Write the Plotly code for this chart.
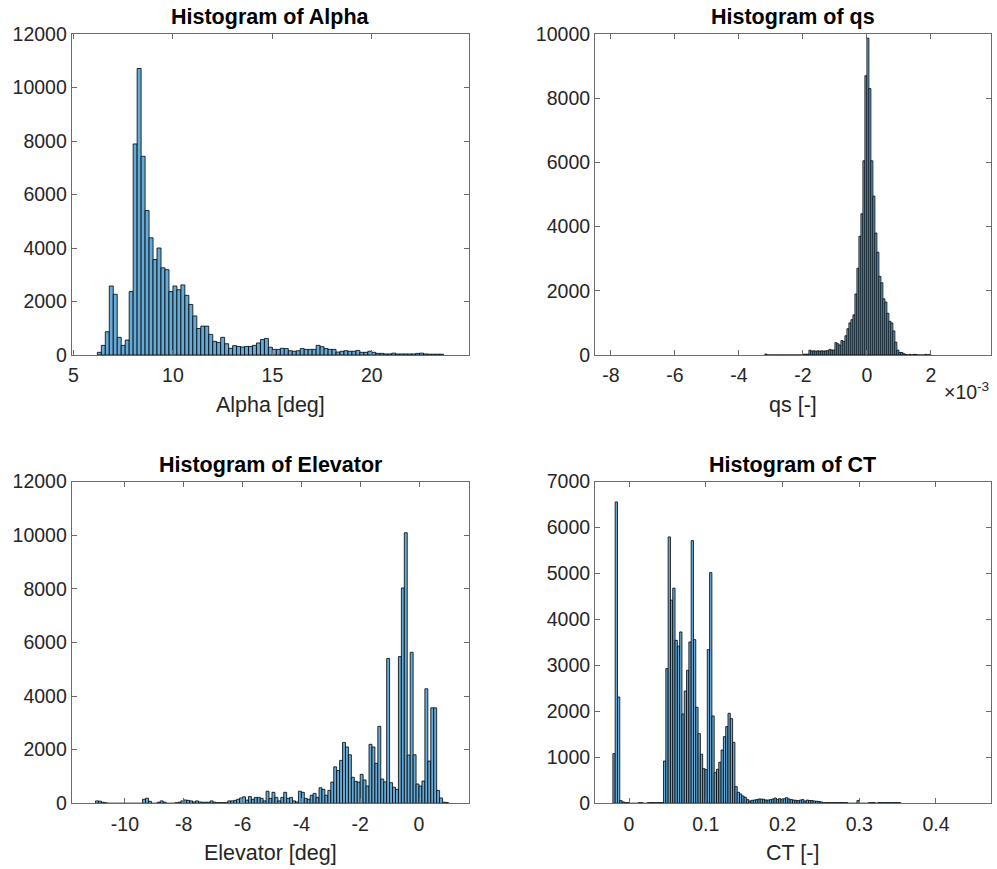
import plotly.graph_objects as go

W, H = 997, 869          # browser window = figure size (body margin removed below)

# ---------------- data ----------------
# Alpha histogram: bin width 0.2 deg, first edge 6.2
alpha_first_edge = 6.2
alpha_bin_width = 0.2
alpha_counts = [100, 360, 870, 2580, 2270, 660, 360, 560, 2370, 7890,
                10710, 7430, 5400, 4380, 3570, 4000, 3260, 3190, 2370, 2580,
                2440, 2620, 2230, 1890, 1460, 990, 1080, 1080, 770, 510,
                470, 660, 420, 250, 350, 320, 300, 320, 320, 360,
                450, 580, 620, 290, 210, 210, 250, 240, 160, 140,
                160, 240, 210, 210, 210, 360, 310, 240, 210, 210,
                110, 140, 160, 140, 140, 170, 100, 100, 140, 100,
                60, 60, 40, 40, 70, 40, 40, 40, 40, 40,
                60, 70, 40, 30, 30, 30, 30]
alpha_ticks = [5, 10, 15, 20]
alpha_ticktext = ["5", "10", "15", "20"]

# qs histogram: bin width 0.0625e-3, first bin index -51
qs_bin_width = 0.0625e-3
qs_first_bin = -51
qs_counts = ([30] + [0] * 18 + [25, 25, 25, 150,
             125, 130, 120, 130, 125, 130, 125, 130, 135,
             175, 155, 155,
             385, 350, 310, 450, 420, 600, 820, 1000, 1100, 1250,
             1900, 2700, 3700, 4400, 6050, 8700,
             9870, 8300, 6050, 4950, 3800, 3200, 2450, 2250, 1750, 1650,
             1300, 1050, 1000, 750, 400, 150, 80, 80, 40, 20,
             0, 20, 0, 20, 20, 0, 0, 0, 0, 20, 0, 20])
qs_ticks = [-8e-3, -6e-3, -4e-3, -2e-3, 0, 2e-3]
qs_ticktext = ["-8", "-6", "-4", "-2", "0", "2"]

# Elevator histogram: bin width 0.1 deg, first bin index -110
elev_bin_width = 0.1
elev_first_bin = -110
elev_counts = ([90, 80, 40, 20] + [0] * 12 + [150, 190, 75, 0, 0, 40, 90, 40, 0, 0, 0,
               20, 40, 90, 125, 110, 90, 50, 90, 50, 40, 40, 40, 90, 40, 25, 25, 25, 25,
               90, 90, 110, 150, 200, 240,
               120, 250, 150, 220, 220, 185, 90, 450, 185, 410, 220, 90, 220, 410, 185,
               220, 90, 50, 450, 410,
               185, 150, 300, 370, 220, 580, 520, 300, 480, 790, 1360, 1220, 1600, 2270,
               2100, 1810, 970, 820, 790, 1080,
               870, 645, 2200, 2100, 1490, 2870, 905, 800, 5400, 770, 600, 520, 5470,
               8030, 10090, 1800, 5630, 1810, 720, 645,
               830, 4270, 1575, 3560, 3560, 480, 200, 40, 30])
elev_ticks = [-10, -8, -6, -4, -2, 0]
elev_ticktext = ["-10", "-8", "-6", "-4", "-2", "0"]

# CT histogram: bin width 0.003, first bin index -7
ct_bin_width = 0.003
ct_first_bin = -7
ct_counts = ([1080, 6555, 2313, 58, 30, 15, 15,
              0, 0, 0, 0, 15, 15, 0, 0, 15, 15, 15, 15, 15, 15, 15,
              920, 2930, 5795, 4420, 4680, 3545, 3420, 3727, 1943, 2443, 2893, 3510,
              5714, 3560, 2088, 1515, 1066, 754, 732, 3343, 5018,
              1900, 667, 740, 892, 1160, 1450, 1668, 1958, 1842, 1327,
              363, 240, 203, 160, 130, 80, 50, 65, 72, 80, 94, 94, 87, 72, 72, 80, 94,
              116, 87, 101, 80, 101, 123, 94, 80, 72, 65, 58, 72, 80, 50,
              70, 60, 60, 50, 45, 40, 30]
             + [15] * 11 + [0, 0, 0, 0, 60, 0, 0, 0, 0]
             + [15, 15, 15, 0, 15, 15, 15, 15, 15, 15, 15, 15, 15, 15])
ct_ticks = [0, 0.1, 0.2, 0.3, 0.4]
ct_ticktext = ["0", "0.1", "0.2", "0.3", "0.4"]

# ---------------- helpers ----------------
def centers_from_edge(first_edge, width, counts):
    return [first_edge + (i + 0.5) * width for i in range(len(counts))]

BAR_FILL = "rgb(102,170,215)"
EDGE = "black"
FONT = "Liberation Sans, Arial, sans-serif"
AX_COLOR = "#6b6b6b"
TXT_COLOR = "#262626"

fig = go.Figure()

panels = [
    dict(x=centers_from_edge(alpha_first_edge, alpha_bin_width, alpha_counts),
         y=alpha_counts, w=alpha_bin_width, ax="x", ay="y"),
    dict(x=centers_from_edge(qs_first_bin * qs_bin_width, qs_bin_width, qs_counts),
         y=qs_counts, w=qs_bin_width, ax="x2", ay="y2"),
    dict(x=centers_from_edge(elev_first_bin * elev_bin_width, elev_bin_width, elev_counts),
         y=elev_counts, w=elev_bin_width, ax="x3", ay="y3"),
    dict(x=centers_from_edge(ct_first_bin * ct_bin_width, ct_bin_width, ct_counts),
         y=ct_counts, w=ct_bin_width, ax="x4", ay="y4"),
]
for p in panels:
    fig.add_trace(go.Bar(x=p["x"], y=p["y"], width=p["w"],
                         marker=dict(color=BAR_FILL, line=dict(color=EDGE, width=0.8)),
                         xaxis=p["ax"], yaxis=p["ay"], showlegend=False,
                         hoverinfo="x+y"))

# convert window pixel positions to paper fractions
def px_x(px):
    return min(1.0, max(0.0, px / W))

def px_y(py):
    return min(1.0, max(0.0, 1 - py / H))

# plot-area pixel boxes in window coordinates (left, right, top, bottom)
boxes = {
    1: (71.7, 469.3, 34, 355),
    2: (595, 990.7, 34, 355),
    3: (71.7, 469.3, 481.5, 803.3),
    4: (595, 990.7, 481.5, 803.3),
}

common_axis = dict(showline=True, linecolor=AX_COLOR, linewidth=1, mirror="ticks",
                   ticks="inside", ticklen=5, tickcolor=AX_COLOR, tickwidth=1,
                   showgrid=False, zeroline=False, automargin=False,
                   tickfont=dict(family=FONT, size=19.5, color=TXT_COLOR))

xranges = {1: [4.91, 24.9], 2: [-8.5e-3, 3.87e-3], 3: [-11.81, 1.71], 4: [-0.0443, 0.4713]}
yranges = {1: [0, 12000], 2: [0, 10000], 3: [0, 12000], 4: [0, 7000]}
xticks = {1: (alpha_ticks, alpha_ticktext), 2: (qs_ticks, qs_ticktext),
          3: (elev_ticks, elev_ticktext), 4: (ct_ticks, ct_ticktext)}
ydtick = {1: 2000, 2: 2000, 3: 2000, 4: 1000}

layout = dict(width=W, height=H, margin=dict(l=0, r=0, t=0, b=0),
              paper_bgcolor="white", plot_bgcolor="white",
              bargap=0, barmode="overlay", showlegend=False)
for i in range(1, 5):
    l, r, t, b = boxes[i]
    xa = dict(common_axis)
    xa.update(domain=[px_x(l), px_x(r)], range=xranges[i],
              tickvals=xticks[i][0], ticktext=xticks[i][1], ticklabelstandoff=3,
              anchor="y" if i == 1 else f"y{i}")
    ya = dict(common_axis)
    yv = list(range(0, yranges[i][1] + 1, ydtick[i]))
    ya.update(domain=[px_y(b), px_y(t)], range=yranges[i],
              tickvals=yv, ticktext=[str(v) for v in yv],
              anchor="x" if i == 1 else f"x{i}")
    layout["xaxis" if i == 1 else f"xaxis{i}"] = xa
    layout["yaxis" if i == 1 else f"yaxis{i}"] = ya

fig.update_layout(**layout)

titles = {1: "Histogram of Alpha", 2: "Histogram of qs", 3: "Histogram of Elevator", 4: "Histogram of CT"}
xlabels = {1: "Alpha [deg]", 2: "qs [-]", 3: "Elevator [deg]", 4: "CT [-]"}
title_y = {1: 17, 2: 17, 3: 465, 4: 465}
label_y = {1: 405, 2: 405, 3: 853, 4: 853}

for i in range(1, 5):
    l, r, t, b = boxes[i]
    cx = (l + r) / 2
    fig.add_annotation(x=px_x(cx), y=px_y(title_y[i]), xref="paper", yref="paper",
                       text=f"<b>{titles[i]}</b>", showarrow=False,
                       xanchor="center", yanchor="middle",
                       font=dict(family=FONT, size=21.5, color="black"))
    fig.add_annotation(x=px_x(cx), y=px_y(label_y[i]), xref="paper", yref="paper",
                       text=xlabels[i], showarrow=False,
                       xanchor="center", yanchor="middle",
                       font=dict(family=FONT, size=21.5, color=TXT_COLOR))

fig.add_annotation(x=px_x(991), y=px_y(391), xref="paper", yref="paper",
                   text="\u00d710<sup>-3</sup>", showarrow=False,
                   xanchor="right", yanchor="middle",
                   font=dict(family=FONT, size=19.5, color=TXT_COLOR))

# remove the default page margin so the figure fills the window exactly
fig.write_html("out.html",
               config={"displayModeBar": False, "staticPlot": True},
               post_script="document.body.style.margin='0';document.body.style.overflow='hidden';")
